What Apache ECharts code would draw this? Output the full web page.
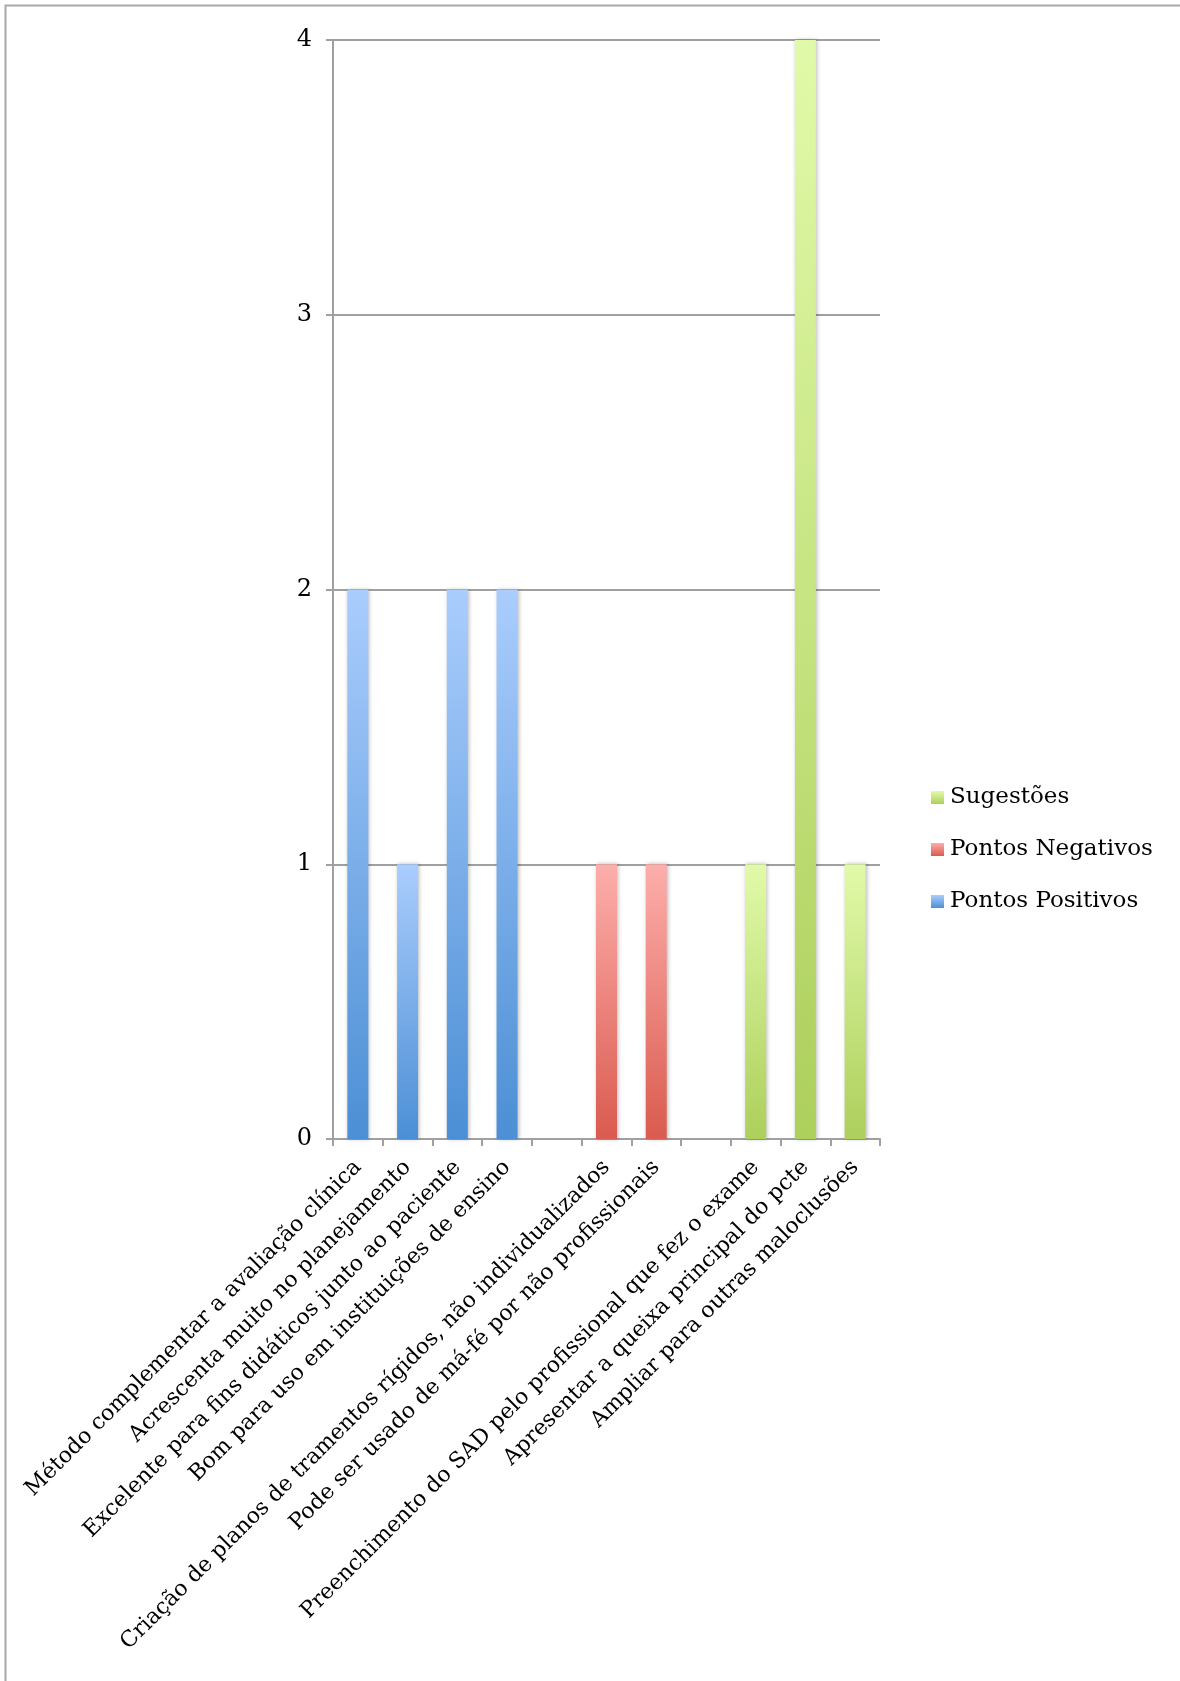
<!DOCTYPE html>
<html>
<head>
<meta charset="utf-8">
<style>
  html, body { margin: 0; padding: 0; background: #ffffff; }
  #chart { width: 1180px; height: 1681px; }
</style>
<script src="https://cdn.jsdelivr.net/npm/echarts@6/dist/echarts.min.js"></script>
</head>
<body>
<div id="chart"></div>
<script>
// Categories (two blank slots separate the three groups)
const categories = [
  'Método complementar a avaliação clínica',
  'Acrescenta muito no planejamento',
  'Excelente para fins didáticos junto ao paciente',
  'Bom para uso em instituições de ensino',
  '',
  'Criação de planos de tramentos rígidos, não individualizados',
  'Pode ser usado de má-fé por não profissionais',
  '',
  'Preenchimento do SAD pelo profissional que fez o exame',
  'Apresentar a queixa principal do pcte',
  'Ampliar para outras maloclusões'
];

const pontosPositivos = [2, 1, 2, 2, '-', '-', '-', '-', '-', '-', '-'];
const pontosNegativos = ['-', '-', '-', '-', '-', 1, 1, '-', '-', '-', '-'];
const sugestoes       = ['-', '-', '-', '-', '-', '-', '-', '-', 1, 4, 1];

const yTicks = [0, 1, 2, 3, 4];

const FONT = 'DejaVu Serif';

function grad(top, bottom) {
  return new echarts.graphic.LinearGradient(0, 0, 0, 1, [
    { offset: 0, color: top },
    { offset: 1, color: bottom }
  ]);
}

function barSeries(name, data, top, bottom) {
  return {
    name: name,
    type: 'bar',
    stack: 'total',
    data: data,
    barWidth: 21,
    itemStyle: {
      color: grad(top, bottom),
      shadowColor: 'rgba(0,0,0,0.28)',
      shadowBlur: 4,
      shadowOffsetX: 1,
      shadowOffsetY: 0
    }
  };
}

const chart = echarts.init(document.getElementById('chart'), null, { renderer: 'canvas' });

chart.setOption({
  animation: false,
  backgroundColor: '#ffffff',
  textStyle: { fontFamily: FONT },
  graphic: [{
    type: 'rect',
    shape: { x: 5.5, y: 5.5, width: 1300, height: 1800 },
    style: { fill: 'none', stroke: '#a8a8a8', lineWidth: 2 },
    silent: true
  }],
  legend: {
    orient: 'vertical',
    left: 926,
    top: 781,
    itemWidth: 13,
    itemHeight: 13,
    itemGap: 29,
    icon: 'rect',
    data: ['Sugestões', 'Pontos Negativos', 'Pontos Positivos'],
    textStyle: { fontFamily: FONT, fontSize: 23, color: '#000', padding: [0, 0, 0, 1] }
  },
  grid: {
    left: 333,
    right: 1180 - 880,
    top: 40,
    bottom: 1681 - 1139,
    containLabel: false
  },
  xAxis: {
    type: 'category',
    data: categories,
    boundaryGap: true,
    axisLine: { show: true, lineStyle: { color: '#a0a0a0', width: 2 } },
    axisTick: { show: true, alignWithLabel: false, length: 7, lineStyle: { color: '#a0a0a0', width: 2 } },
    axisLabel: {
      interval: 0,
      rotate: 45,
      margin: 25,
      fontFamily: FONT,
      fontSize: 22,
      color: '#000'
    },
    splitLine: { show: false }
  },
  yAxis: {
    type: 'value',
    min: yTicks[0],
    max: yTicks[yTicks.length - 1],
    interval: 1,
    axisLine: { show: true, lineStyle: { color: '#a0a0a0', width: 2 } },
    axisTick: { show: true, length: 7, lineStyle: { color: '#a0a0a0', width: 2 } },
    axisLabel: {
      margin: 21,
      fontFamily: FONT,
      fontSize: 24,
      color: '#000'
    },
    splitLine: { show: true, lineStyle: { color: '#a0a0a0', width: 2 } }
  },
  series: [
    barSeries('Pontos Positivos', pontosPositivos, '#aacdfd', '#4c8fd5'),
    barSeries('Pontos Negativos', pontosNegativos, '#fdaeab', '#da5b4f'),
    barSeries('Sugestões', sugestoes, '#e1faa9', '#adcf5c')
  ]
});
</script>
</body>
</html>
